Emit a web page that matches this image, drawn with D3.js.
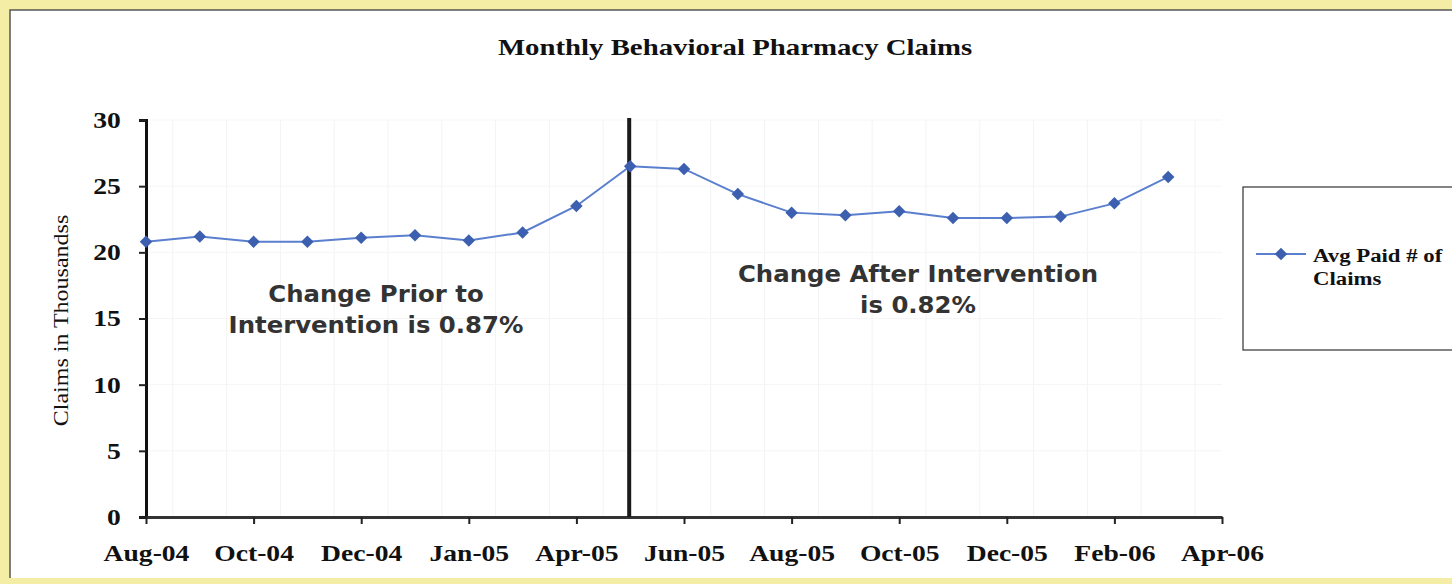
<!DOCTYPE html>
<html>
<head>
<meta charset="utf-8">
<script src="https://cdn.jsdelivr.net/npm/d3@7"></script>
<style>
  body { margin: 0; background: #f4eda6; }
  svg { display: block; }
</style>
</head>
<body>
<svg width="1452" height="584"></svg>
<script>
// chart values
const tickLabels = ['Aug-04','Oct-04','Dec-04','Jan-05','Apr-05','Jun-05','Aug-05','Oct-05','Dec-05','Feb-06','Apr-06'];
const claims = [20.8, 21.2, 20.8, 20.8, 21.1, 21.3, 20.9, 21.5, 23.5, 26.5,
                26.3, 24.4, 23.0, 22.8, 23.1, 22.6, 22.6, 22.7, 23.7, 25.7];
const yTicks = [0, 5, 10, 15, 20, 25, 30];
const interventionAt = 9; // slot of the intervention line
const seriesName = ['Avg Paid # of', 'Claims'];
const notePrior = ['Change Prior to', 'Intervention is 0.87%'];
const noteAfter = ['Change After Intervention', 'is 0.82%'];

const svg = d3.select('svg');
const width = +svg.attr('width');
const height = +svg.attr('height');

// the scanned original is a bit wider than tall, so serif text gets stretched
const serif = '"Liberation Serif", "Times New Roman", serif';
const stretch = 'scale(1.2,1)';

// paper frame
svg.append('rect')
    .attr('x', 10).attr('y', 10)
    .attr('width', width - 10).attr('height', height - 16)
    .attr('fill', 'white');
svg.append('path')
    .attr('d', `M10,${height - 6}V10H${width}`)
    .attr('fill', 'none')
    .attr('stroke', '#555')
    .attr('stroke-width', 1.5);

const margin = {top: 120, left: 146};
const innerWidth = 1222 - margin.left;
const innerHeight = 517 - margin.top;

const xScale = d3.scaleLinear()
    .domain([0, 20])
    .range([0, innerWidth]);

const yScale = d3.scaleLinear()
    .domain([0, 30])
    .range([innerHeight, 0]);

const g = svg.append('g')
    .attr('transform', `translate(${margin.left},${margin.top})`);

// faint grid, mostly a scan artefact in the original
g.append('g')
    .selectAll('line').data(d3.range(1, 21))
    .enter().append('line')
        .attr('x1', d => xScale(d) - 27).attr('x2', d => xScale(d) - 27)
        .attr('y1', 0).attr('y2', innerHeight)
        .attr('stroke', '#f3f3f3');
g.append('g')
    .selectAll('line').data(yTicks.slice(1))
    .enter().append('line')
        .attr('x1', 0).attr('x2', innerWidth)
        .attr('y1', d => yScale(d)).attr('y2', d => yScale(d))
        .attr('stroke', '#f5f5f5');

// y axis
const yAxisG = g.append('g')
    .call(d3.axisLeft(yScale).tickValues(yTicks).tickSize(7).tickPadding(14));
yAxisG.select('.domain').attr('stroke', '#111').attr('stroke-width', 3);
yAxisG.selectAll('.tick line').attr('stroke', '#222').attr('stroke-width', 2);
yAxisG.selectAll('.tick text')
    .attr('transform', stretch)
    .attr('fill', '#111')
    .attr('font-family', serif)
    .attr('font-weight', 'bold')
    .attr('font-size', 23);

// x axis
const xAxis = d3.axisBottom(xScale)
    .tickValues(d3.range(0, 21, 2))
    .tickFormat((d, i) => tickLabels[i])
    .tickSize(7)
    .tickSizeOuter(0)
    .tickPadding(21);
const xAxisG = g.append('g')
    .attr('transform', `translate(0,${innerHeight})`)
    .call(xAxis);
xAxisG.select('.domain').attr('stroke', '#333').attr('stroke-width', 3);
xAxisG.selectAll('.tick line').attr('stroke', '#222').attr('stroke-width', 2);
xAxisG.selectAll('.tick text')
    .attr('transform', stretch)
    .attr('fill', '#111')
    .attr('font-family', serif)
    .attr('font-weight', 'bold')
    .attr('font-size', 23);

// y axis label
svg.append('text')
    .attr('transform', `translate(68,${margin.top + innerHeight / 2 + 2}) rotate(-90) ${stretch}`)
    .attr('text-anchor', 'middle')
    .attr('font-family', serif)
    .attr('font-size', 20)
    .attr('fill', '#111')
    .text('Claims in Thousandss');

// title
svg.append('text')
    .attr('transform', `translate(735,55) ${stretch}`)
    .attr('text-anchor', 'middle')
    .attr('font-family', serif)
    .attr('font-weight', 'bold')
    .attr('font-size', 24)
    .attr('fill', '#111')
    .text('Monthly Behavioral Pharmacy Claims');

// series line
const line = d3.line()
    .x((d, i) => xScale(i))
    .y(d => yScale(d));

g.append('path')
    .datum(claims)
    .attr('d', line)
    .attr('fill', 'none')
    .attr('stroke', '#5b7fcf')
    .attr('stroke-width', 2);

// intervention line
g.append('line')
    .attr('x1', xScale(interventionAt) - 1).attr('x2', xScale(interventionAt) - 1)
    .attr('y1', -2).attr('y2', innerHeight)
    .attr('stroke', '#1a1a1a')
    .attr('stroke-width', 4);

const diamond = d3.symbol().type(d3.symbolSquare).size(78);
g.selectAll('.marker').data(claims)
    .enter().append('path')
        .attr('class', 'marker')
        .attr('transform', (d, i) => `translate(${xScale(i)},${yScale(d)}) rotate(45)`)
        .attr('d', diamond)
        .attr('fill', '#3c5fb0');

// annotations
const noteFont = '"DejaVu Sans", Verdana, sans-serif';
const addNote = (lines, x, y) => {
    g.append('text')
        .attr('transform', `translate(${x},${y}) scale(1.06,1)`)
        .attr('text-anchor', 'middle')
        .attr('font-family', noteFont)
        .attr('font-weight', 'bold')
        .attr('font-size', 23)
        .attr('fill', '#333')
        .selectAll('tspan').data(lines)
        .enter().append('tspan')
            .attr('x', 0)
            .attr('y', (d, i) => i * 31)
            .text(d => d);
};
addNote(notePrior, 230, 182);
addNote(noteAfter, 772, 162);

// legend
const legend = svg.append('g').attr('transform', 'translate(1243,187)');
legend.append('rect')
    .attr('width', 215).attr('height', 163)
    .attr('fill', 'white')
    .attr('stroke', '#333')
    .attr('stroke-width', 1.2);
legend.append('line')
    .attr('x1', 13).attr('x2', 63)
    .attr('y1', 67).attr('y2', 67)
    .attr('stroke', '#5b7fcf')
    .attr('stroke-width', 2);
legend.append('path')
    .attr('transform', 'translate(38,67) rotate(45)')
    .attr('d', diamond)
    .attr('fill', '#3c5fb0');
legend.append('text')
    .attr('transform', `translate(70,75) ${stretch}`)
    .attr('font-family', serif)
    .attr('font-weight', 'bold')
    .attr('font-size', 19)
    .attr('fill', '#111')
    .selectAll('tspan').data(seriesName)
    .enter().append('tspan')
        .attr('x', 0)
        .attr('y', (d, i) => i * 23)
        .text(d => d);
</script>
</body>
</html>
